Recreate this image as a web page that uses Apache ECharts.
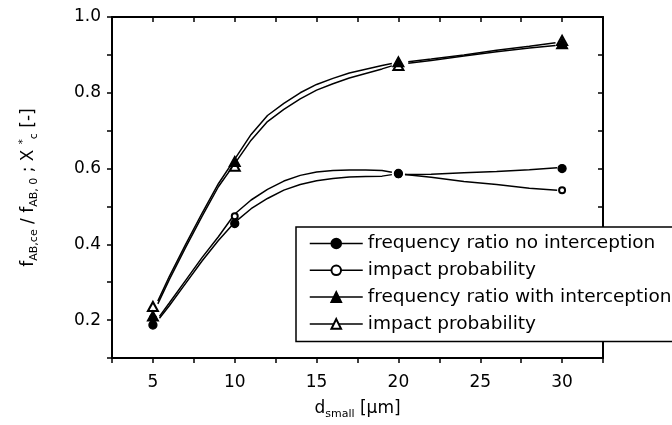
<!DOCTYPE html>
<html><head><meta charset="utf-8">
<script src="https://cdn.jsdelivr.net/npm/echarts@6/dist/echarts.min.js"></script>
<style>html,body{margin:0;padding:0;background:#fff}#c{width:672px;height:425px}</style>
</head><body><div id="c"></div>
<script>
// ---- data ----
const markerX = [5, 10, 20, 30];
const filledCircle = [0.187, 0.455, 0.587, 0.600];
const openCircle   = [0.205, 0.474, 0.585, 0.543];
const filledTri    = [0.211, 0.619, 0.882, 0.930];
const openTri      = [0.236, 0.606, 0.872, 0.938];

// drawn curves (two pieces each, broken near d = 20)
const triCurveX1 = [5.3, 6, 7, 8, 9, 10, 11, 12, 13, 14, 15, 16, 17, 18, 19, 19.6];
const triFilledCurve1 = [0.250, 0.315, 0.400, 0.482, 0.560, 0.625, 0.690, 0.740, 0.772, 0.800, 0.822, 0.838, 0.852, 0.862, 0.872, 0.877];
const triOpenCurve1   = [0.243, 0.307, 0.392, 0.474, 0.552, 0.613, 0.675, 0.724, 0.756, 0.784, 0.807, 0.824, 0.839, 0.851, 0.863, 0.871];
const triCurveX2 = [20.6, 22, 24, 26, 28, 29.6];
const triFilledCurve2 = [0.878, 0.885, 0.897, 0.908, 0.918, 0.925];
const triOpenCurve2   = [0.882, 0.889, 0.900, 0.912, 0.923, 0.932];

const circCurveX1 = [5.4, 6, 7, 8, 9, 10, 11, 12, 13, 14, 15, 16, 17, 18, 19, 19.6];
const circOpenCurve1   = [0.210, 0.245, 0.305, 0.365, 0.420, 0.480, 0.517, 0.545, 0.567, 0.582, 0.591, 0.595, 0.596, 0.596, 0.595, 0.590];
const circFilledCurve1 = [0.205, 0.238, 0.297, 0.356, 0.410, 0.458, 0.494, 0.521, 0.543, 0.558, 0.568, 0.574, 0.578, 0.579, 0.580, 0.584];
const circCurveX2 = [20.4, 22, 24, 26, 28, 29.7];
const circFilledCurve2 = [0.584, 0.585, 0.589, 0.592, 0.597, 0.602];
const circOpenCurve2   = [0.584, 0.577, 0.566, 0.558, 0.548, 0.543];

const xTickLabels = [5, 10, 15, 20, 25, 30];
const yTickLabels = ['0.2', '0.4', '0.6', '0.8', '1.0'];
const legendLabels = ['frequency ratio no interception', 'impact probability',
                      'frequency ratio with interception', 'impact probability'];

// ---- build ----
const FONT = 'DejaVu Sans';
function zip(xs, ys) { return xs.map((x, i) => [x, ys[i]]); }
function curve(x1, y1, x2, y2) { return zip(x1, y1).concat([[20, '-']], zip(x2, y2)); }

const curveStyle = { color: '#000', width: 1.5 };
function curveSeries(data) {
  return { type: 'line', data, symbol: 'none', silent: true, lineStyle: curveStyle,
           connectNulls: false, z: 2, legendHoverLink: false };
}
function markerSeries(name, ys, symbol, size, z) {
  return { type: 'line', name, data: zip(markerX, ys), symbol, symbolSize: size,
           showSymbol: true, lineStyle: { opacity: 0, width: 1.5, color: '#000' },
           itemStyle: { color: '#000', borderColor: '#000', borderWidth: 1.3 }, z };
}

const series = [
  curveSeries(curve(triCurveX1, triFilledCurve1, triCurveX2, triFilledCurve2)),
  curveSeries(curve(triCurveX1, triOpenCurve1, triCurveX2, triOpenCurve2)),
  curveSeries(curve(circCurveX1, circOpenCurve1, circCurveX2, circOpenCurve2)),
  curveSeries(curve(circCurveX1, circFilledCurve1, circCurveX2, circFilledCurve2)),
  markerSeries('s1', filledCircle, 'circle', 8, 6),
  markerSeries('s2', openCircle, 'emptyCircle', 6, 5),
  markerSeries('s3', filledTri, 'triangle', [11, 10], 8),
  markerSeries('s4', openTri, 'emptyTriangle', [10, 9], 7)
];
// draw order: open circle under filled circle / filled triangle
const ordered = [series[0], series[1], series[2], series[3], series[5], series[4], series[7], series[6]];

const axisLine = { show: true, lineStyle: { color: '#000', width: 2 } };
const tickOut = { show: true, inside: false, length: 5, lineStyle: { color: '#000', width: 1.5 } };
const tickIn = { show: true, inside: true, length: 5, lineStyle: { color: '#000', width: 1.5 } };

const option = {
  animation: false,
  backgroundColor: '#fff',
  grid: { left: 112, right: 69, top: 17, bottom: 66, containLabel: false },
  legend: {
    data: ['s1', 's2', 's3', 's4'],
    orient: 'vertical', left: 296, top: 227,
    itemWidth: 53, itemHeight: 12, itemGap: 7.8,
    padding: [7, 20, 8, 13],
    borderColor: '#000', borderWidth: 1.5, borderRadius: 0,
    backgroundColor: '#fff',
    selectedMode: false,
    lineStyle: { opacity: 1, width: 1.5, color: '#000' },
    formatter: n => legendLabels[['s1', 's2', 's3', 's4'].indexOf(n)],
    textStyle: { fontFamily: FONT, fontSize: 18.5, color: '#000' },
    z: 10
  },
  xAxis: [{
    type: 'value', min: 2.5, max: 32.5, interval: 2.5, position: 'bottom',
    axisLine, axisTick: tickOut, splitLine: { show: false },
    axisLabel: { margin: 16, fontFamily: FONT, fontSize: 17, color: '#000',
      formatter: v => xTickLabels.includes(Math.round(v * 10) / 10) ? String(v) : '' },
    name: '{i|d}{s|small}{i| [µm]}', nameLocation: 'middle', nameGap: 40,
    nameTextStyle: { rich: {
      i: { fontFamily: FONT, fontSize: 17, color: '#000', lineHeight: 22 },
      s: { fontFamily: FONT, fontSize: 11, color: '#000', lineHeight: 11, verticalAlign: 'bottom' } } }
  }, {
    type: 'value', min: 2.5, max: 32.5, interval: 2.5, position: 'top',
    axisLine, axisTick: tickIn, axisLabel: { show: false }, splitLine: { show: false }
  }],
  yAxis: [{
    type: 'value', min: 0.1, max: 1.0, interval: 0.1, position: 'left',
    axisLine, axisTick: tickOut, splitLine: { show: false },
    axisLabel: { margin: 11, fontFamily: FONT, fontSize: 17, color: '#000',
      formatter: v => { const s = (Math.round(v * 10) / 10).toFixed(1); return yTickLabels.includes(s) ? s : ''; } },
    name: '{i|f}{s|AB,ce}{i| / f}{s|AB, 0}{i| ; X }{p|*}{s|c}{i| [-]}',
    nameLocation: 'middle', nameGap: 72,
    nameTextStyle: { rich: {
      i: { fontFamily: FONT, fontSize: 17, color: '#000', lineHeight: 22 },
      s: { fontFamily: FONT, fontSize: 11, color: '#000', lineHeight: 11, verticalAlign: 'bottom' },
      p: { fontFamily: FONT, fontSize: 10, color: '#000', lineHeight: 10, verticalAlign: 'top' } } }
  }, {
    type: 'value', min: 0.1, max: 1.0, interval: 0.1, position: 'right',
    axisLine, axisTick: tickIn, axisLabel: { show: false }, splitLine: { show: false }
  }],
  series: ordered
};
const chart = echarts.init(document.getElementById('c'), null, { renderer: 'canvas' });
chart.setOption(option);
</script>
</body></html>
